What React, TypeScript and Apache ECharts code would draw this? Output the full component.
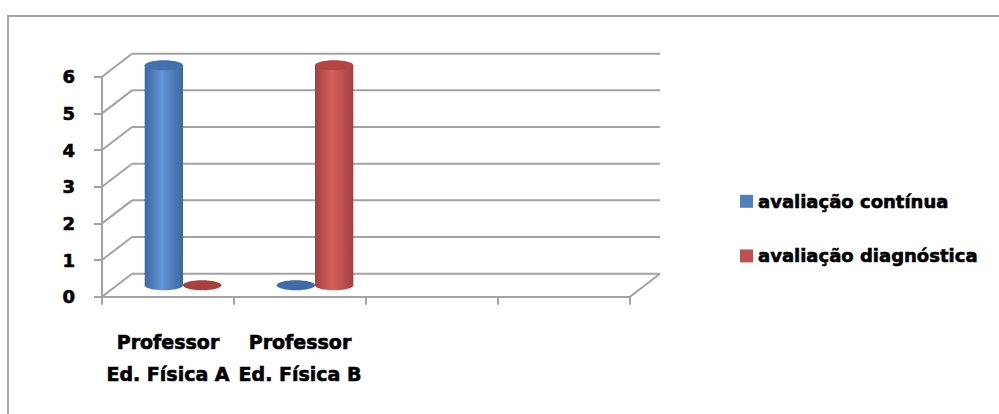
import React, { useEffect, useRef } from "react";
import * as echarts from "echarts";

// Categories on the horizontal axis (the last two are empty slots)
const categories = ["Professor\nEd. Física A", "Professor\nEd. Física B", " ", "  "];
// Series values per category
const continua = [6, 0];
const diagnostica = [0, 6];
const seriesNames = ["avaliação contínua", "avaliação diagnóstica"];
// Value-axis ticks
const yTicks = [0, 1, 2, 3, 4, 5, 6];

// Depth of the 3D box (back wall offset in px)
const DX = 30;
const DY = 23;
const GRID_COLOR = "#a3a3a3";
const FONT = "'DejaVu Sans', sans-serif";
const heavyText = {
  fontFamily: FONT,
  fontWeight: "bold",
  color: "#000",
  textBorderColor: "#000",
  textBorderWidth: 0.6,
};

const palette = [
  { dark: "#3a68a3", mid: "#4f81bd", light: "#6394d3", top: "#4371ae", flat: "#3f6ca8" },
  { dark: "#a53f3c", mid: "#c0504d", light: "#d6615e", top: "#b24643", flat: "#a8403d" },
];

export default function App() {
  const ref = useRef<HTMLDivElement>(null);

  useEffect(() => {
    if (!ref.current) return;
    const chart = echarts.init(ref.current, null, { renderer: "svg" });

    const cylinderSeries = (idx: number, values: number[]) => ({
      type: "custom",
      name: seriesNames[idx],
      clip: false,
      itemStyle: { color: palette[idx].mid },
      data: values.map((v, i) => [i, v]),
      renderItem: (params: any, api: any) => {
        const cat = api.value(0);
        const val = api.value(1);
        const catW = api.size([1, 0])[0];
        const barW = catW * 0.29;
        const ry = barW * 0.13;
        const base = api.coord([cat, 0]);
        const topP = api.coord([cat, val]);
        const cx = base[0] + DX / 2 + (idx === 0 ? -barW / 2 : barW / 2);
        const yBottom = base[1] - DY / 2;
        const yTop = topP[1] - DY / 2;
        const c = palette[idx];
        if (val === 0) {
          return {
            type: "ellipse",
            shape: { cx, cy: yBottom, rx: barW / 2, ry },
            style: { fill: c.flat },
          };
        }
        const grad = new echarts.graphic.LinearGradient(0, 0, 1, 0, [
          { offset: 0, color: c.dark },
          { offset: 0.45, color: c.light },
          { offset: 1, color: c.dark },
        ]);
        return {
          type: "group",
          children: [
            {
              type: "ellipse",
              shape: { cx, cy: yBottom, rx: barW / 2, ry },
              style: { fill: grad },
            },
            {
              type: "rect",
              shape: { x: cx - barW / 2, y: yTop, width: barW, height: yBottom - yTop },
              style: { fill: grad },
            },
            {
              type: "ellipse",
              shape: { cx, cy: yTop, rx: barW / 2, ry },
              style: { fill: c.top },
            },
          ],
        };
      },
    });

    // Back wall, side wall diagonals and the floor's right edge
    const frameSeries = {
      type: "custom",
      silent: true,
      clip: false,
      data: yTicks.map((v) => [0, v]),
      renderItem: (params: any, api: any) => {
        const v = api.value(1);
        const catW = api.size([1, 0])[0];
        const p = api.coord([0, v]);
        const xLeft = p[0] - catW / 2;
        const xRight = xLeft + catW * categories.length;
        const y = p[1];
        const lineStyle = { stroke: GRID_COLOR, lineWidth: 2 };
        const children: any[] = [
          { type: "line", shape: { x1: xLeft, y1: y, x2: xLeft + DX, y2: y - DY }, style: lineStyle },
          { type: "line", shape: { x1: xLeft + DX, y1: y - DY, x2: xRight + DX, y2: y - DY }, style: lineStyle },
        ];
        if (v === 0) {
          children.push({
            type: "line",
            shape: { x1: xRight, y1: y, x2: xRight + DX, y2: y - DY },
            style: lineStyle,
          });
        }
        return { type: "group", children };
      },
    };

    chart.setOption({
      animation: false,
      backgroundColor: "#ffffff",
      graphic: [
        {
          type: "rect",
          silent: true,
          shape: { x: 8, y: 16, width: 1200, height: 600 },
          style: { fill: "none", stroke: "#a6a6a6", lineWidth: 2 },
        },
      ],
      grid: { left: 102, top: 76.7, width: 528, height: 220 },
      legend: {
        orient: "vertical",
        left: 735,
        top: 187,
        itemWidth: 13,
        itemHeight: 13,
        itemGap: 36,
        icon: "rect",
        data: seriesNames,
        textStyle: { ...heavyText, fontSize: 18 },
      },
      xAxis: {
        type: "category",
        data: categories,
        boundaryGap: true,
        axisLine: { lineStyle: { color: GRID_COLOR, width: 2 } },
        axisTick: { show: true, length: 8, interval: 0, lineStyle: { color: GRID_COLOR, width: 2 } },
        axisLabel: {
          ...heavyText,
          interval: 0,
          margin: 29,
          lineHeight: 32,
          fontSize: 19,
        },
        splitLine: { show: false },
      },
      yAxis: {
        type: "value",
        min: 0,
        max: 6,
        interval: 1,
        axisLine: { show: true, lineStyle: { color: GRID_COLOR, width: 2 } },
        axisTick: { show: true, length: 8, lineStyle: { color: GRID_COLOR, width: 2 } },
        axisLabel: {
          ...heavyText,
          margin: 27,
          padding: [6, 0, 0, 0],
          fontSize: 18,
        },
        splitLine: { show: false },
      },
      series: [frameSeries, cylinderSeries(0, continua), cylinderSeries(1, diagnostica)],
    });

    return () => chart.dispose();
  }, []);

  return (
    <div
      ref={ref}
      style={{ position: "absolute", left: 0, top: 0, width: 999, height: 414 }}
    />
  );
}
